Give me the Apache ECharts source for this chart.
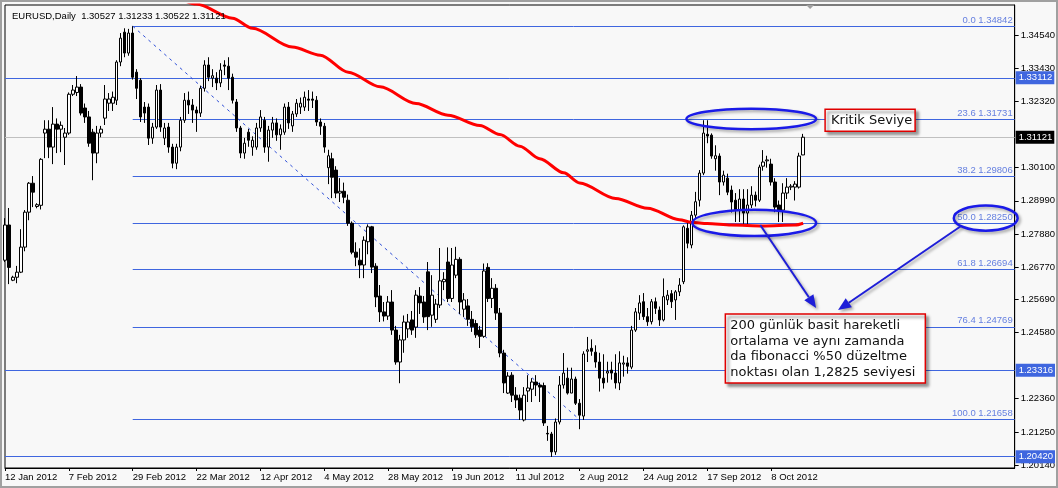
<!DOCTYPE html>
<html><head><meta charset="utf-8">
<script src="https://cdn.jsdelivr.net/npm/echarts@6/dist/echarts.min.js"></script>
<style>html,body{margin:0;padding:0;background:#f8f8f8;}#c{width:1058px;height:488px;}</style>
</head><body><div id="c"></div>
<script>
// ---- data ----
const titleText = 'EURUSD,Daily  1.30527 1.31233 1.30522 1.31121';
const dateLabels = ['12 Jan 2012','7 Feb 2012','29 Feb 2012','22 Mar 2012','12 Apr 2012','4 May 2012','28 May 2012','19 Jun 2012','11 Jul 2012','2 Aug 2012','24 Aug 2012','17 Sep 2012','8 Oct 2012'];
const labelStep = 16;
const totalSlots = 254;
const priceTicks = [1.2014,1.2125,1.2236,1.2458,1.2569,1.2677,1.2788,1.2899,1.3010,1.3232,1.3343,1.3454];

const openP = [1.2700,1.2818,1.2633,1.2643,1.2660,1.2744,1.2861,1.2958,1.2880,1.2884,
1.3126,1.3139,1.3079,1.3156,1.3139,1.3112,1.3126,1.3256,1.3262,1.3280,
1.3210,1.3180,1.3129,1.3059,1.3126,1.3176,1.3226,1.3226,1.3236,1.3364,
1.3464,1.3394,1.3461,1.3330,1.3303,1.3213,1.3213,1.3109,1.3146,1.3270,
1.3109,1.3146,1.3079,1.3025,1.3079,1.3169,1.3236,1.3220,1.3203,1.3193,
1.3276,1.3354,1.3310,1.3310,1.3294,1.3354,1.3350,1.3313,1.3230,1.3143,
1.3059,1.3129,1.3079,1.3079,1.3143,1.3169,1.3079,1.3136,1.3160,1.3120,
1.3129,1.3213,1.3150,1.3190,1.3213,1.3213,1.3240,1.3240,1.3236,1.3163,
1.3149,1.3010,1.3040,1.3002,1.2925,1.2931,1.2901,1.2824,1.2727,1.2700,
1.2684,1.2762,1.2812,1.2680,1.2580,1.2527,1.2513,1.2560,1.2466,1.2359,
1.2433,1.2470,1.2500,1.2476,1.2580,1.2560,1.2661,1.2516,1.2502,1.2550,
1.2628,1.2694,1.2572,1.2650,1.2703,1.2536,1.2547,1.2502,1.2488,1.2466,
1.2445,1.2676,1.2572,1.2606,1.2523,1.2389,1.2255,1.2315,1.2248,1.2238,
1.2165,1.2262,1.2268,1.2292,1.2282,1.2280,1.2120,1.2118,1.2058,1.2158,
1.2282,1.2305,1.2255,1.2302,1.2221,1.2178,1.2395,1.2405,1.2392,1.2359,
1.2305,1.2322,1.2332,1.2322,1.2289,1.2352,1.2356,1.2342,1.2466,1.2523,
1.2561,1.2511,1.2494,1.2561,1.2533,1.2500,1.2567,1.2588,1.2567,1.2594,
1.2628,1.2807,1.2751,1.2851,1.2901,1.2992,1.3122,1.3119,1.3040,1.3049,
1.2962,1.2975,1.2935,1.2901,1.2868,1.2905,1.2858,1.2885,1.2918,1.2901,
1.3015,1.3033,1.3022,1.2962,1.2885,1.2868,1.2925,1.2945,1.2945,1.2945,
1.30527];
const closeP = [1.2818,1.2676,1.2643,1.2660,1.2744,1.2861,1.2958,1.2928,1.2886,1.3038,
1.3139,1.3079,1.3156,1.3139,1.3152,1.3126,1.3256,1.3270,1.3280,1.3193,
1.3180,1.3092,1.3059,1.3126,1.3139,1.3240,1.3240,1.3246,1.3364,1.3444,
1.3394,1.3461,1.3313,1.3276,1.3180,1.3193,1.3109,1.3146,1.3270,1.3146,
1.3143,1.3079,1.3025,1.3079,1.3169,1.3236,1.3220,1.3203,1.3193,1.3276,
1.3354,1.3313,1.3318,1.3294,1.3337,1.3350,1.3310,1.3236,1.3143,1.3059,
1.3092,1.3102,1.3102,1.3143,1.3180,1.3079,1.3136,1.3160,1.3120,1.3140,
1.3213,1.3160,1.3190,1.3226,1.3226,1.3246,1.3236,1.3236,1.3163,1.3149,
1.3079,1.3050,1.2978,1.2925,1.2931,1.2911,1.2824,1.2727,1.2710,1.2684,
1.2767,1.2812,1.2677,1.2577,1.2527,1.2513,1.2560,1.2466,1.2359,1.2433,
1.2493,1.2493,1.2466,1.2583,1.2557,1.2510,1.2511,1.2583,1.2553,1.2631,
1.2636,1.2572,1.2684,1.2703,1.2560,1.2567,1.2502,1.2477,1.2450,1.2445,
1.2664,1.2572,1.2606,1.2523,1.2389,1.2289,1.2312,1.2248,1.2232,1.2198,
1.2248,1.2272,1.2292,1.2282,1.2275,1.2155,1.2118,1.2058,1.2158,1.2282,
1.2322,1.2255,1.2302,1.2221,1.2181,1.2386,1.2400,1.2395,1.2359,1.2305,
1.2289,1.2328,1.2322,1.2289,1.2356,1.2356,1.2345,1.2466,1.2527,1.2557,
1.2511,1.2494,1.2561,1.2539,1.2500,1.2578,1.2583,1.2561,1.2594,1.2617,
1.2812,1.2757,1.2851,1.2896,1.2992,1.3126,1.3116,1.3049,1.3050,1.2962,
1.2985,1.2928,1.2895,1.2868,1.2905,1.2858,1.2885,1.2918,1.2901,1.3012,
1.3029,1.3036,1.2962,1.2878,1.2868,1.2925,1.2945,1.2948,1.2955,1.3049,
1.31121];
const lowP = [1.2694,1.2620,1.2630,1.2623,1.2657,1.2730,1.2834,1.2878,1.2874,1.2870,
1.3042,1.3042,1.3022,1.3059,1.3062,1.3019,1.3120,1.3250,1.3250,1.3185,
1.3160,1.3080,1.2968,1.3025,1.3112,1.3153,1.3200,1.3200,1.3220,1.3350,
1.3380,1.3385,1.3305,1.3240,1.3163,1.3160,1.3086,1.3090,1.3140,1.3130,
1.3086,1.3060,1.3008,1.3005,1.3065,1.3160,1.3190,1.3160,1.3130,1.3180,
1.3265,1.3300,1.3280,1.3270,1.3280,1.3320,1.3270,1.3225,1.3130,1.3042,
1.3040,1.3080,1.3050,1.3070,1.3130,1.3060,1.3030,1.3110,1.3100,1.3070,
1.3120,1.3140,1.3130,1.3180,1.3190,1.3200,1.3200,1.3210,1.3150,1.3120,
1.3060,1.2955,1.2908,1.2908,1.2895,1.2891,1.2815,1.2720,1.2680,1.2640,
1.2640,1.2720,1.2657,1.2543,1.2493,1.2495,1.2500,1.2450,1.2350,1.2288,
1.2390,1.2440,1.2450,1.2440,1.2520,1.2490,1.2466,1.2477,1.2490,1.2540,
1.2600,1.2560,1.2560,1.2640,1.2520,1.2510,1.2480,1.2460,1.2440,1.2406,
1.2440,1.2560,1.2540,1.2500,1.2375,1.2255,1.2252,1.2225,1.2205,1.2165,
1.2160,1.2225,1.2225,1.2245,1.2225,1.2145,1.2095,1.2041,1.2048,1.2150,
1.2270,1.2250,1.2255,1.2215,1.2134,1.2165,1.2359,1.2380,1.2340,1.2260,
1.2270,1.2290,1.2300,1.2270,1.2265,1.2310,1.2320,1.2335,1.2460,1.2500,
1.2500,1.2480,1.2485,1.2520,1.2480,1.2495,1.2550,1.2540,1.2500,1.2580,
1.2620,1.2740,1.2740,1.2840,1.2880,1.2985,1.3092,1.3040,1.3000,1.2918,
1.2950,1.2918,1.2860,1.2828,1.2828,1.2818,1.2818,1.2875,1.2880,1.2895,
1.3000,1.3010,1.2950,1.2861,1.2828,1.2828,1.2905,1.2935,1.2900,1.2940,
1.30522];
const highP = [1.2841,1.2875,1.2648,1.2681,1.2804,1.2868,1.2962,1.2982,1.2891,1.3042,
1.3169,1.3169,1.3213,1.3175,1.3165,1.3143,1.3262,1.3287,1.3317,1.3290,
1.3225,1.3200,1.3140,1.3150,1.3150,1.3287,1.3260,1.3265,1.3370,1.3461,
1.3477,1.3475,1.3484,1.3340,1.3310,1.3230,1.3225,1.3160,1.3287,1.3290,
1.3160,1.3160,1.3090,1.3090,1.3180,1.3260,1.3265,1.3240,1.3215,1.3285,
1.3370,1.3380,1.3340,1.3330,1.3360,1.3370,1.3380,1.3325,1.3240,1.3150,
1.3110,1.3140,1.3115,1.3160,1.3203,1.3180,1.3150,1.3180,1.3175,1.3155,
1.3225,1.3230,1.3200,1.3240,1.3245,1.3265,1.3270,1.3265,1.3250,1.3175,
1.3160,1.3070,1.3060,1.3015,1.2975,1.2960,1.2920,1.2830,1.2760,1.2740,
1.2780,1.2820,1.2815,1.2690,1.2617,1.2560,1.2580,1.2600,1.2480,1.2450,
1.2515,1.2520,1.2530,1.2600,1.2610,1.2580,1.2694,1.2650,1.2570,1.2741,
1.2660,1.2743,1.2741,1.2745,1.2710,1.2590,1.2570,1.2530,1.2500,1.2480,
1.2689,1.2690,1.2640,1.2620,1.2540,1.2400,1.2325,1.2325,1.2275,1.2250,
1.2275,1.2315,1.2305,1.2315,1.2290,1.2290,1.2145,1.2125,1.2170,1.2312,
1.2389,1.2340,1.2340,1.2310,1.2235,1.2395,1.2443,1.2435,1.2415,1.2390,
1.2385,1.2360,1.2360,1.2385,1.2395,1.2380,1.2375,1.2480,1.2540,1.2583,
1.2590,1.2540,1.2570,1.2575,1.2545,1.2639,1.2600,1.2600,1.2600,1.2640,
1.2817,1.2830,1.2865,1.2929,1.3002,1.3169,1.3169,1.3125,1.3085,1.3058,
1.3000,1.2990,1.2950,1.2925,1.2938,1.2938,1.2938,1.2948,1.2930,1.3020,
1.3069,1.3050,1.3040,1.2975,1.2900,1.2958,1.2975,1.2955,1.2965,1.3060,
1.31233];

// 200-day simple moving average, read at these bars
const maBars   = [44,48,57,62,72,79,86,94,103,111,119,124,129,134,140,144,153,161,169,172,176,182,190,198,200];
const maValues = [1.3575,1.3558,1.3511,1.3477,1.3414,1.3387,1.3330,1.3281,1.3225,1.3186,1.3151,1.3121,1.3082,1.3040,1.2993,1.2959,1.2907,1.2874,1.2836,1.2827,1.2823,1.2818,1.2815,1.2818,1.2824];

// Fibonacci retracement
const fibLevels = ['0.0','23.6','38.2','50.0','61.8','76.4','100.0'];
const fibValues = [1.34842,1.31731,1.29806,1.28250,1.26694,1.24769,1.21658];
const fibStartBar = 32;
const trendFrom = [32, 1.34842];
const trendTo = [144, 1.21658];
const hLineValues = [1.33112, 1.23316, 1.20420];
const bidPrice = 1.31121;

// annotations (data coordinates)
const ellipsesData = [
  {c:[187, 1.31731], hb:16.25, hv:0.0034},
  {c:[187.75, 1.2825], hb:15.5, hv:0.0044},
  {c:[245.75, 1.2841], hb:8, hv:0.0042}
];
const kritikText = 'Kritik Seviye';
const kritikAnchor = [205.5, 1.3206];
const noteText = '200 günlük basit hareketli\nortalama ve aynı zamanda\nda fibonacci %50 düzeltme\nnoktası olan 1,2825 seviyesi';
const noteAnchor = [180.5, 1.2520];
const arrowsData = [
  {from:[189.25, 1.2818], to:[203.25, 1.2540]},
  {from:[239.5, 1.2814], to:[208.75, 1.2533]}
];
const shiftMarkerBar = 201.75;

// ---- chart ----
const cats = Array.from({length: totalSlots}, (_, i) => String(i));
const candleData = openP.map((o, i) => [o, closeP[i], lowP[i], highP[i]]);
const maData = cats.map(() => null);
maBars.forEach((b, k) => { maData[b] = maValues[k]; });

const BLUE = '#3f66df';
const FONT = 'Liberation Sans';
const isLabelIdx = i => i % labelStep === 0 && i / labelStep < dateLabels.length;

const markData = [];
fibValues.forEach((v, k) => {
  markData.push([
    {xAxis: fibStartBar, yAxis: v, lineStyle:{color: BLUE, width:1, type:'solid'},
     label:{show:true, position:'insideEndTop', formatter: fibLevels[k] + ' ' + v.toFixed(5),
            color:'#6680e0', fontSize:9.5, fontFamily: FONT, distance:[2,1]}},
    {xAxis: totalSlots - 1, yAxis: v}
  ]);
});
hLineValues.forEach(v => {
  markData.push([
    {xAxis: 0, yAxis: v, lineStyle:{color: BLUE, width:1, type:'solid'},
     label:{show:true, position:'end', formatter: v.toFixed(5), color:'#fff',
            backgroundColor: BLUE, padding:[2,2,1,3], fontSize:9.5, fontFamily: FONT, distance:1}},
    {xAxis: totalSlots - 1, yAxis: v}
  ]);
});
markData.push([
  {xAxis: 0, yAxis: bidPrice, lineStyle:{color:'#c0c0c0', width:1, type:'solid'},
   label:{show:true, position:'end', formatter: bidPrice.toFixed(5), color:'#fff',
          backgroundColor:'#000', padding:[2,2,1,3], fontSize:9.5, fontFamily: FONT, distance:1}},
  {xAxis: totalSlots - 1, yAxis: bidPrice}
]);
markData.push([
  {coord: trendFrom, lineStyle:{color:'#3050d8', width:1, type:[3,4]}, label:{show:false}},
  {coord: trendTo}
]);

const chart = echarts.init(document.getElementById('c'), null, {renderer:'canvas'});
chart.setOption({
  animation: false,
  backgroundColor: '#f8f8f8',
  title: {text: titleText, left: 7, top: 6,
          textStyle:{fontSize:9.5, fontWeight:'normal', color:'#000', fontFamily: FONT}},
  grid: {left: 5, right: 42, top: 5, bottom: 20, show: true, borderColor:'#000', borderWidth:1, backgroundColor:'#f8f8f8'},
  xAxis: {
    type:'category', data: cats, boundaryGap: false,
    axisLine:{lineStyle:{color:'#000'}},
    axisTick:{show:true, interval: isLabelIdx, length:3, lineStyle:{color:'#000'}},
    axisLabel:{interval: isLabelIdx, formatter:(v, i) => dateLabels[i / labelStep],
               align:'left', margin:4, fontSize:9.5, color:'#000', fontFamily: FONT},
    splitLine:{show:false}
  },
  yAxis: {
    type:'value', position:'right', min:1.2004, max:1.3555, scale:true,
    axisLine:{show:true, lineStyle:{color:'#000'}},
    axisTick:{show:true, length:4, customValues: priceTicks, lineStyle:{color:'#000'}},
    axisLabel:{customValues: priceTicks, formatter: v => v.toFixed(5), margin:6,
               fontSize:9.5, color:'#000', fontFamily: FONT},
    splitLine:{show:false}
  },
  series: [
    {
      type:'candlestick', data: candleData, barWidth: 3, z: 2,
      itemStyle:{color:'#ffffff', color0:'#000000', borderColor:'#000000', borderColor0:'#000000', borderWidth:1},
      markLine:{silent:true, symbol:['none','none'], data: markData, z: 1}
    },
    {
      type:'line', data: maData, connectNulls: true, smooth: 0.3, smoothMonotone:'x',
      showSymbol:false, symbol:'none', z: 5,
      lineStyle:{color:'#ff0000', width:3}
    }
  ]
});

// ---- annotations anchored through the chart's scales ----
const xA = chart.convertToPixel({xAxisIndex:0}, 0);
const xB = chart.convertToPixel({xAxisIndex:0}, totalSlots - 1);
const px = b => xA + (xB - xA) * b / (totalSlots - 1);
const py = v => chart.convertToPixel({yAxisIndex:0}, v);
const shadow = {shadowBlur:3, shadowColor:'rgba(0,0,0,0.35)', shadowOffsetX:2, shadowOffsetY:2};
const g = [];
g.push({type:'rect', silent:true, shape:{x:1, y:1, width:1056, height:486},
        style:{fill:'none', stroke:'#a0a0a0', lineWidth:2}, z:200});
ellipsesData.forEach(e => {
  const cx = px(e.c[0]), cy = py(e.c[1]);
  g.push({type:'ellipse', silent:true,
          shape:{cx, cy, rx: px(e.c[0] + e.hb) - cx, ry: py(e.c[1] - e.hv) - cy},
          style:Object.assign({fill:'none', stroke:'#1a1ae8', lineWidth:2.5}, shadow), z:100});
});
arrowsData.forEach(a => {
  const x1 = px(a.from[0]), y1 = py(a.from[1]), x2 = px(a.to[0]), y2 = py(a.to[1]);
  const ang = Math.atan2(y2 - y1, x2 - x1), L = 13, W = 5.5;
  const bx = x2 - L * Math.cos(ang), by = y2 - L * Math.sin(ang);
  g.push({type:'line', silent:true, shape:{x1, y1, x2: bx, y2: by},
          style:Object.assign({stroke:'#1e1ed8', lineWidth:2}, shadow), z:100});
  g.push({type:'polygon', silent:true,
          shape:{points:[[x2, y2], [bx + W * Math.sin(ang), by - W * Math.cos(ang)], [bx - W * Math.sin(ang), by + W * Math.cos(ang)]]},
          style:Object.assign({fill:'#1e1ed8'}, shadow), z:100});
});
const kx = px(kritikAnchor[0]), ky = py(kritikAnchor[1]);
g.push({type:'rect', silent:true, shape:{x:kx, y:ky, width:90, height:22},
        style:{fill:'#ffffff', stroke:'#e00000', lineWidth:1.5, shadowBlur:3, shadowColor:'rgba(0,0,0,0.45)', shadowOffsetX:3, shadowOffsetY:3}, z:110});
g.push({type:'text', silent:true, x:kx + 6, y:ky + 11,
        style:{text:kritikText, fill:'#111', font:'13px "DejaVu Sans"', verticalAlign:'middle'}, z:111});
const nx = px(noteAnchor[0]), ny = py(noteAnchor[1]);
g.push({type:'rect', silent:true, shape:{x:nx, y:ny, width:200, height:69},
        style:{fill:'#ffffff', stroke:'#e00000', lineWidth:1.5, shadowBlur:3, shadowColor:'rgba(0,0,0,0.45)', shadowOffsetX:3, shadowOffsetY:3}, z:110});
g.push({type:'text', silent:true, x:nx + 5, y:ny + 4,
        style:{text:noteText, fill:'#111', font:'13px "DejaVu Sans"', lineHeight:15.5, verticalAlign:'top'}, z:111});
const sx = px(shiftMarkerBar);
g.push({type:'polygon', silent:true, shape:{points:[[sx - 4, 5], [sx + 4, 5], [sx, 9]]}, style:{fill:'#a0a0a0'}, z:100});
chart.setOption({graphic: g});
</script>
</body></html>
